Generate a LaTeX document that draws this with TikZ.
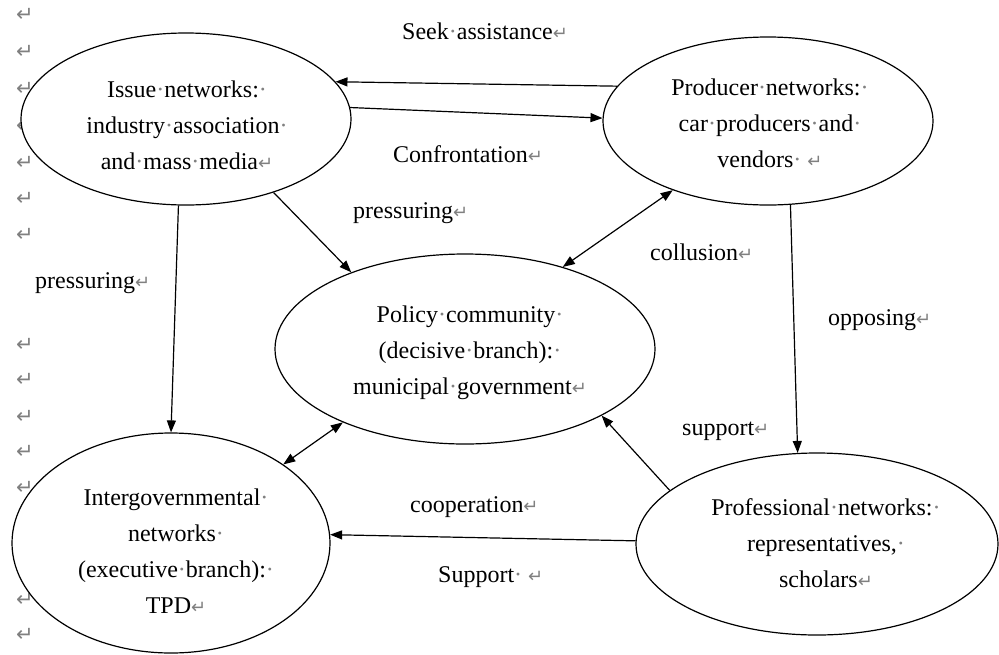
\documentclass[tikz,border=0pt]{standalone}
\usepackage{fontspec}
\setmainfont{Liberation Serif}
\newfontfamily\dejavu{DejaVu Sans}
\usetikzlibrary{shapes.geometric,arrows.meta}
\newcommand\rmk{{\color{gray}\dejavu\fontsize{18}{18}\selectfont ↵}}
\newcommand\bigrmk{{\color{gray}\dejavu\fontsize{21}{21}\selectfont ↵}}
\newcommand\spd{{\color{gray}·}}
\newcommand\topstrut{\rule{0pt}{18pt}}
\begin{document}
\begin{tikzpicture}[x=1pt,y=-1pt,
  ell/.style={draw, ellipse, fill=white, line width=1.2pt, inner sep=0pt},
  txt/.style={inner sep=0pt, anchor=north, align=center, font=\fontsize{24}{36}\selectfont},
  lbl/.style={inner sep=0pt, anchor=base west, font=\fontsize{24}{36}\selectfont},
  pmark/.style={inner sep=0pt},
  arr/.style={line width=1.2pt, -{Triangle[length=12pt,width=9pt]}},
  darr/.style={line width=1.2pt, {Triangle[length=12pt,width=9pt]}-{Triangle[length=12pt,width=9pt]}}]
\useasboundingbox (0,0) rectangle (999,654);
\fill[white] (0,0) rectangle (999,654);
% paragraph marks in the margin
\foreach \yy [count=\i] in {15,52,89,126,163,199,235,345,380,417,452,488,525,562,600,635}
  \node[pmark] (m\i) at (25,\yy) {\bigrmk};
% ellipses
\node[ell, minimum width=330pt, minimum height=172pt] (issue) at (186,119) {};
\node[ell, minimum width=330pt, minimum height=168pt] (prod) at (768,121) {};
\node[ell, minimum width=380pt, minimum height=190pt] (policy) at (465,349) {};
\node[ell, minimum width=318pt, minimum height=220pt] (inter) at (171,543) {};
\node[ell, minimum width=362pt, minimum height=182pt] (prof) at (817,544) {};
% ellipse texts
\node[txt] (issueT) at (187,79) {\topstrut Issue\spd networks:\spd\\industry\spd association\spd\\and\spd mass\spd media\rmk};
\node[txt] (prodT) at (770,77) {\topstrut Producer\spd networks:\spd\\car\spd producers\spd and\spd\\vendors\spd\ \rmk};
\node[txt] (policyT) at (470,304) {\topstrut Policy\spd community\spd\\(decisive\spd branch):\spd\\municipal\spd government\rmk};
\node[txt] (interT) at (176,487) {\topstrut Intergovernmental\spd\\networks\spd\\(executive\spd branch):\spd\\TPD\rmk};
\node[txt] (profT) at (826,497) {\topstrut Professional\spd networks:\spd\\representatives,\spd\\scholars\rmk};
% connectors
\draw[arr] (prod.167) -- (issue.14);
\draw[arr] (issue.4) -- (prod.179);
\draw[arr] (issue.320) -- (policy.146);
\draw[darr] (policy.40) -- (prod.216);
\draw[arr] (issue.265) -- (inter.90);
\draw[arr] (prod.285) -- (prof.102);
\draw[arr] (prof.160) -- (policy.334);
\draw[darr] (inter.35) -- (policy.211);
\draw[arr] (prof.179) -- (inter.3);
% labels
\node[lbl] (lseek) at (402,39) {Seek\spd assistance\rmk};
\node[lbl] (lconf) at (393,162) {Confrontation\rmk};
\node[lbl] (lpress1) at (353,218) {pressuring\rmk};
\node[lbl] (lcoll) at (650,260) {collusion\rmk};
\node[lbl] (lpress2) at (35,288) {pressuring\rmk};
\node[lbl] (lopp) at (828,325) {opposing\rmk};
\node[lbl] (lsupp) at (682,435) {support\rmk};
\node[lbl] (lcoop) at (410,512) {cooperation\rmk};
\node[lbl] (lSupp) at (438,582) {Support\spd\ \rmk};
\end{tikzpicture}
\end{document}
